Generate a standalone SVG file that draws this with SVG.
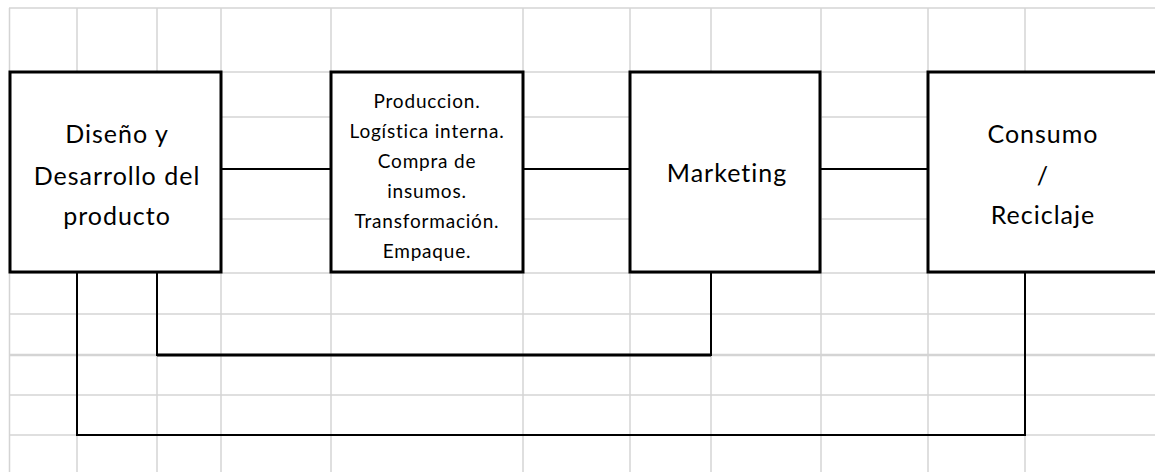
<svg xmlns="http://www.w3.org/2000/svg" width="1155" height="472" viewBox="0 0 1155 472">
<style>
.grid line{stroke:#d4d4d4;stroke-width:1.5}
.box{fill:#fff;stroke:#000;stroke-width:3}
.conn{fill:none;stroke:#000;stroke-width:2}
.big{font-family:Lato,"Liberation Sans",sans-serif;font-size:25px;fill:#000;text-anchor:middle;letter-spacing:1px}
.small{font-family:Lato,"Liberation Sans",sans-serif;font-size:19px;fill:#000;text-anchor:middle;letter-spacing:0.8px}
</style>
<rect x="0" y="0" width="1155" height="472" fill="#fff"/>
<g class="grid">
<line x1="9.5" y1="8" x2="9.5" y2="472"/>
<line x1="77" y1="8" x2="77" y2="472"/>
<line x1="157" y1="8" x2="157" y2="472"/>
<line x1="221" y1="8" x2="221" y2="472"/>
<line x1="331" y1="8" x2="331" y2="472"/>
<line x1="523" y1="8" x2="523" y2="472"/>
<line x1="630" y1="8" x2="630" y2="472"/>
<line x1="711" y1="8" x2="711" y2="472"/>
<line x1="821" y1="8" x2="821" y2="472"/>
<line x1="928" y1="8" x2="928" y2="472"/>
<line x1="1025" y1="8" x2="1025" y2="472"/>
<line x1="9" y1="8" x2="1155" y2="8"/>
<line x1="9" y1="72" x2="1155" y2="72"/>
<line x1="9" y1="117" x2="1155" y2="117"/>
<line x1="9" y1="169" x2="1155" y2="169"/>
<line x1="9" y1="219" x2="1155" y2="219"/>
<line x1="9" y1="273" x2="1155" y2="273"/>
<line x1="9" y1="314" x2="1155" y2="314"/>
<line x1="9" y1="355" x2="1155" y2="355" style="stroke-width:2.5"/>
<line x1="9" y1="395" x2="1155" y2="395"/>
<line x1="9" y1="435" x2="1155" y2="435"/>
</g>
<g id="connectors">
<line class="conn" x1="221" y1="169" x2="331" y2="169"/>
<line class="conn" x1="523" y1="169" x2="630" y2="169"/>
<line class="conn" x1="820" y1="169" x2="928" y2="169"/>
<polyline class="conn" points="157,273 157,355 711,355 711,273"/>
<line x1="157" y1="355" x2="711" y2="355" stroke="#000" stroke-width="3"/>
<polyline class="conn" points="77,273 77,435 1025,435 1025,273"/>
</g>
<g id="node-diseno">
<rect class="box" x="10" y="72" width="211" height="200"/>
<text class="big" x="117" y="143">Diseño y</text>
<text class="big" x="117" y="185">Desarrollo del</text>
<text class="big" x="117" y="225">producto</text>
</g>
<g id="node-produccion">
<rect class="box" x="331" y="72" width="192" height="200"/>
<text class="small" x="427" y="108">Produccion.</text>
<text class="small" x="427" y="138">Logística interna.</text>
<text class="small" x="427" y="168">Compra de</text>
<text class="small" x="427" y="198">insumos.</text>
<text class="small" x="427" y="228">Transformación.</text>
<text class="small" x="427" y="258">Empaque.</text>
</g>
<g id="node-marketing">
<rect class="box" x="630" y="72" width="190" height="200"/>
<text class="big" x="727" y="182">Marketing</text>
</g>
<g id="node-consumo">
<rect class="box" x="928" y="72" width="240" height="200"/>
<text class="big" x="1043" y="143">Consumo</text>
<text class="big" x="1043" y="185">/</text>
<text class="big" x="1043" y="224">Reciclaje</text>
</g>
</svg>
